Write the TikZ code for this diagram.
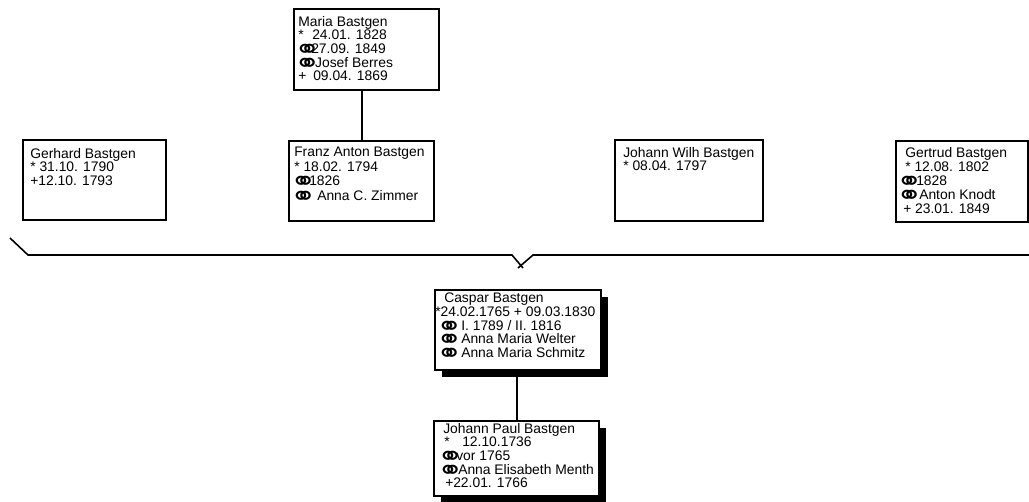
\documentclass[tikz,border=0pt]{standalone}
\usepackage{fontspec}
\setmainfont{Liberation Sans}
\newfontfamily\symfont{DejaVu Sans Bold}
\newcommand{\px}[1]{#1\dimexpr 0.75pt\relax}
\newcommand{\mar}{\makebox[\px{13}][l]{\hspace*{-\px{4}}\rlap{\smash{\raisebox{-\px{5}}{\scalebox{1.45}[1.25]{\symfont\fontsize{16pt}{16pt}\selectfont ⚭}}}}}}
\newcommand{\tb}[2]{\makebox[\px{#1}][l]{#2}}
\begin{document}
\begin{tikzpicture}[x=0.75pt,y=-0.75pt,
  box/.style={draw=black,line width=1.5pt,fill=white,anchor=north west,inner sep=0pt},
  txt/.style={anchor=north west,inner sep=0pt,align=left,
    font=\fontsize{10.4pt}{10.2pt}\selectfont},
  conn/.style={line width=1.2pt,black}]
\useasboundingbox (0,0) rectangle (1029,501);

% shadows
\fill[black] (442,297) rectangle (608,377);
\fill[black] (441,428) rectangle (606,503);

% boxes
\node[box,minimum width=145*0.75pt,minimum height=81*0.75pt] (maria) at (293,8) {};
\node[box,minimum width=143*0.75pt,minimum height=80*0.75pt] (gerhard) at (22,139) {};
\node[box,minimum width=145*0.75pt,minimum height=80*0.75pt] (franz) at (288,140) {};
\node[box,minimum width=148*0.75pt,minimum height=81*0.75pt] (jwilh) at (614,139) {};
\node[box,minimum width=132*0.75pt,minimum height=81*0.75pt] (gertrud) at (895,140) {};
\node[box,minimum width=166*0.75pt,minimum height=80*0.75pt] (caspar) at (434,289) {};
\node[box,minimum width=165*0.75pt,minimum height=75*0.75pt] (jpaul) at (433,420) {};

% texts (first-line baseline minus 10px)
\node[txt] (tmaria) at (298,16) {Maria Bastgen\\
\tb{14}{*}24.01. 1828\\
\mar27.09. 1849\\
\mar\ Josef Berres\\
\tb{15}{+}09.04. 1869};

\node[txt] (tgerhard) at (30,148) {Gerhard Bastgen\\
* 31.10. 1790\\
+12.10. 1793};

\node[txt,font=\fontsize{10.4pt}{10.8pt}\selectfont] (tfranz) at (294,147) {Franz Anton Bastgen\\
* 18.02. 1794\\
\tb{15}{\mar}1826\\
\tb{23}{\mar}Anna C. Zimmer};

\node[txt] (tjwilh) at (623,147) {Johann Wilh Bastgen\\
* 08.04. 1797};

\node[txt,font=\fontsize{10.4pt}{10.6pt}\selectfont] (tgertrud) at (900,147) {\hspace{\px{5}}Gertrud Bastgen\\
\hspace{\px{5}}* 12.08. 1802\\
\tb{16}{\mar}1828\\
\tb{19}{\mar}Anton Knodt\\
\hspace{\px{3}}+ 23.01. 1849};

\node[txt] (tcaspar) at (435,293) {\hspace{\px{9}}Caspar Bastgen\\
*24.02.1765 + 09.03.1830\\
\hspace{\px{5}}\tb{21}{\mar}I. 1789 / II. 1816\\
\hspace{\px{5}}\tb{21}{\mar}Anna Maria Welter\\
\hspace{\px{5}}\tb{21}{\mar}Anna Maria Schmitz};

\node[txt] (tjpaul) at (441,423) {\hspace{\px{2}}Johann Paul Bastgen\\
\hspace{\px{3}}\tb{18}{*}12.10.1736\\
\tb{15}{\mar}vor 1765\\
\tb{17}{\mar}Anna Elisabeth Menth\\
\hspace{\px{4}}\tb{8}{+}22.01. 1766};

% connectors
\draw[conn] (maria.south -| 362,0) -- (franz.north -| 362,0);
\coordinate (l0) at (10,238);
\coordinate (l1) at (28,255);
\coordinate (l2) at (512,255);
\coordinate (l3) at (523,268);
\coordinate (r0) at (1029,255);
\coordinate (r1) at (533,255);
\coordinate (r2) at (518,268);
\draw[conn] (l0) -- (l1) -- (l2) -- (l3);
\draw[conn] (r0) -- (r1) -- (r2);
\draw[conn] (caspar.south -| 517,0) -- (jpaul.north -| 517,0);
\end{tikzpicture}
\end{document}
